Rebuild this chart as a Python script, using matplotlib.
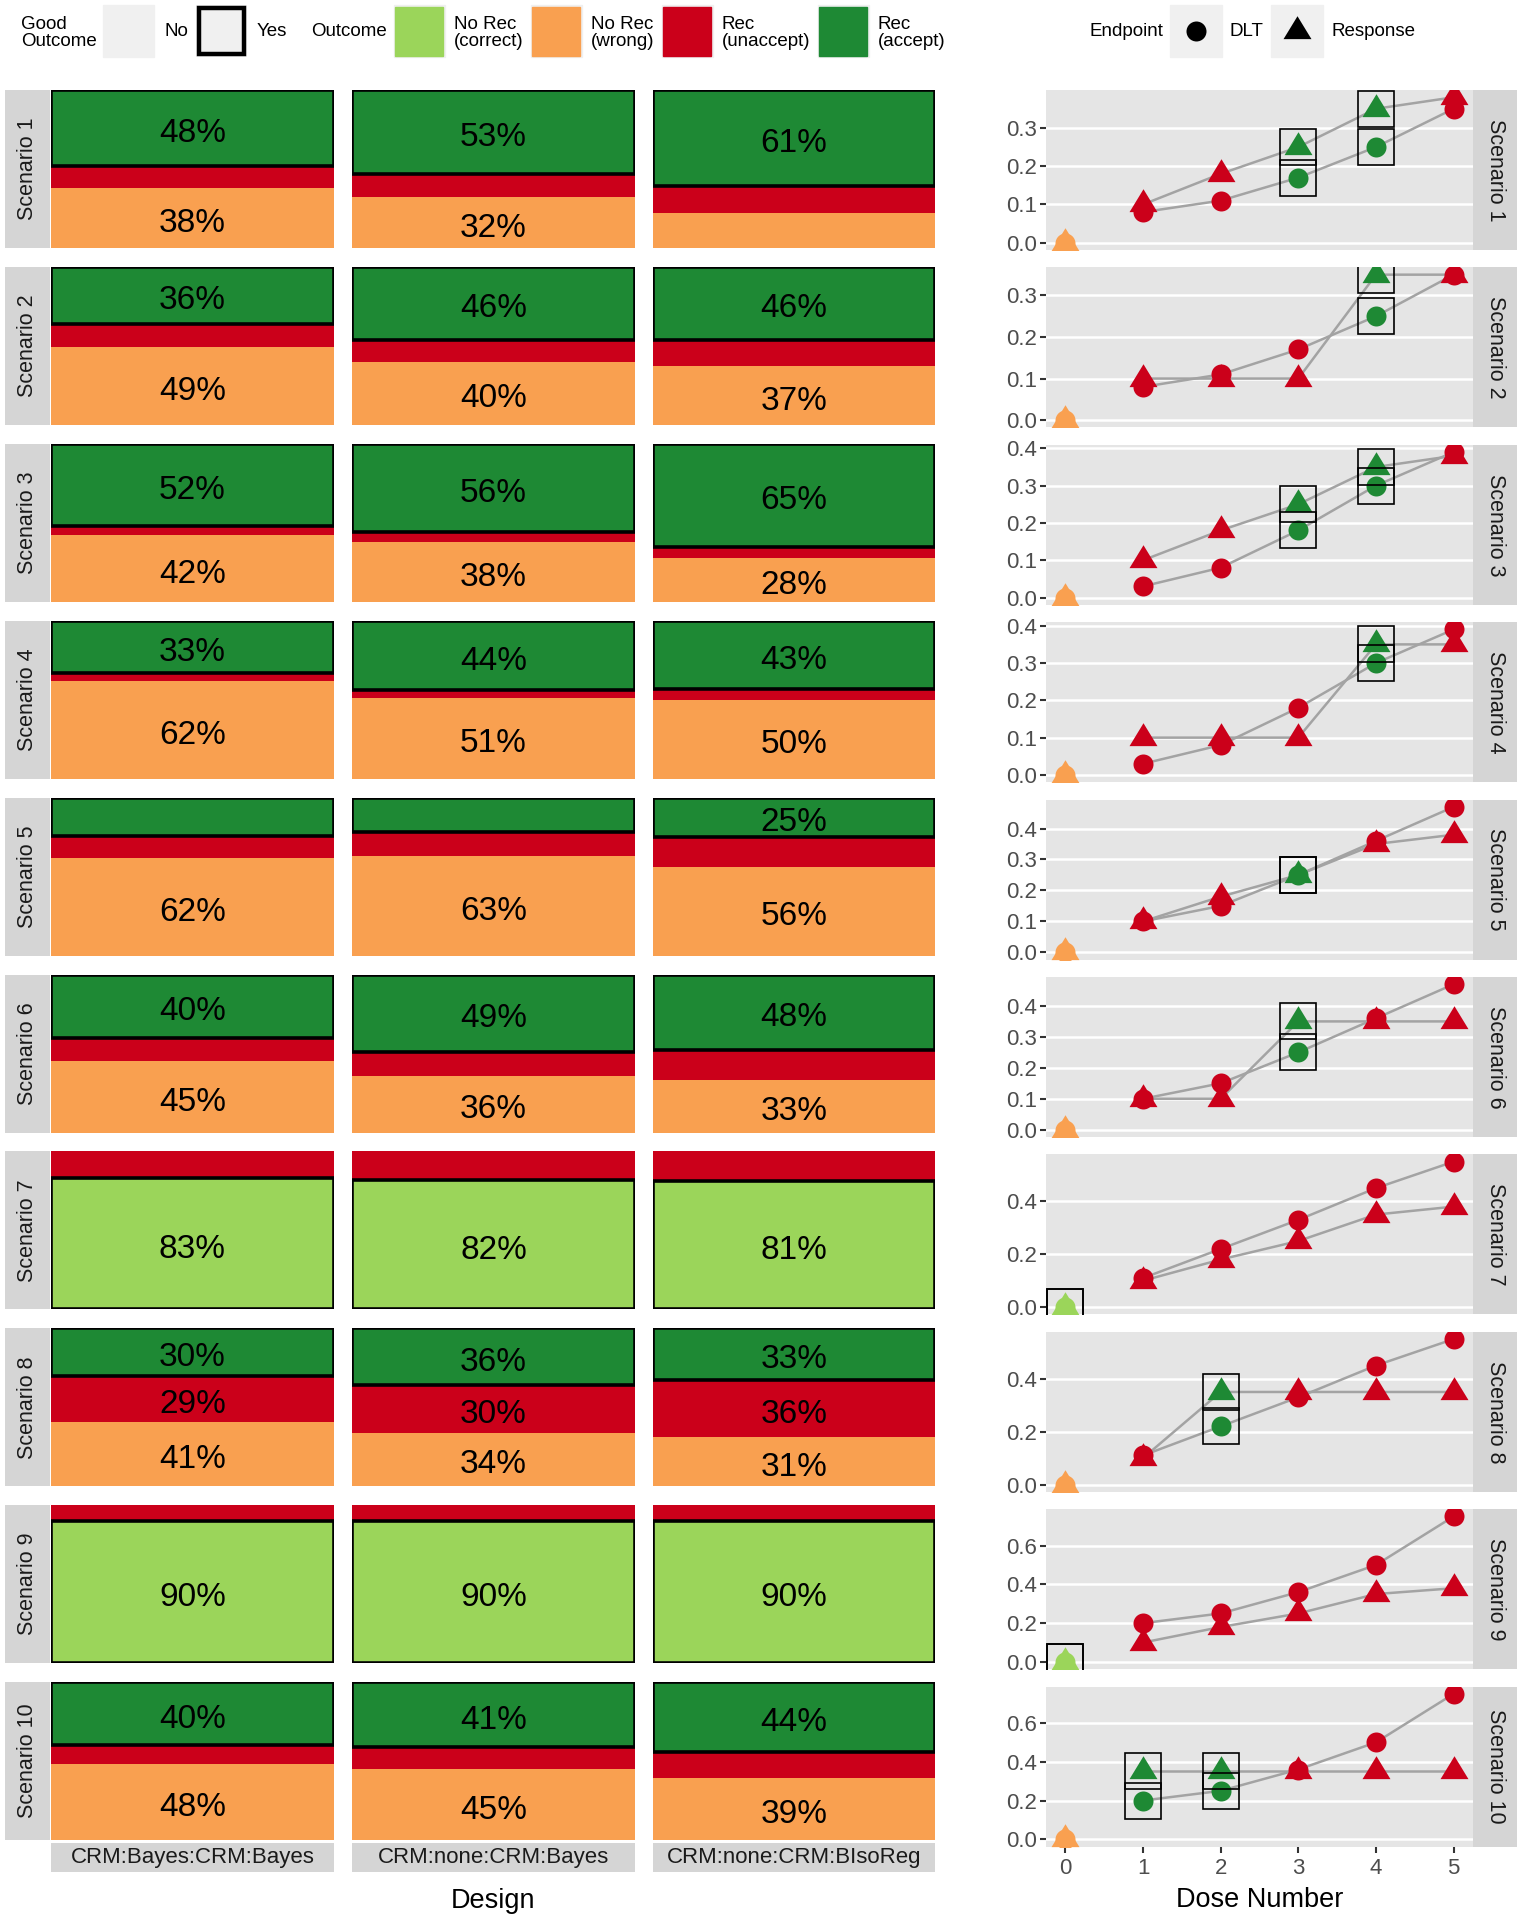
import matplotlib
matplotlib.use("Agg")
import matplotlib.pyplot as plt
from matplotlib.patches import Rectangle
from matplotlib.ticker import MultipleLocator, FormatStrFormatter

plt.rcParams['font.family'] = ['Liberation Sans', 'DejaVu Sans']

designs = ["CRM:Bayes:CRM:Bayes", "CRM:none:CRM:Bayes", "CRM:none:CRM:BIsoReg"]
scenarios = ["Scenario %d" % i for i in range(1, 11)]

# outcome shares, one list per design, one value per scenario
norec_correct = [
    [0, 0, 0, 0, 0, 0, 0.83, 0, 0.90, 0],
    [0, 0, 0, 0, 0, 0, 0.82, 0, 0.90, 0],
    [0, 0, 0, 0, 0, 0, 0.81, 0, 0.90, 0],
]
norec_wrong = [
    [0.38, 0.49, 0.42, 0.62, 0.62, 0.45, 0, 0.41, 0, 0.48],
    [0.32, 0.40, 0.38, 0.51, 0.63, 0.36, 0, 0.34, 0, 0.45],
    [0.22, 0.37, 0.28, 0.50, 0.56, 0.33, 0, 0.31, 0, 0.39],
]
rec_unaccept = [
    [0.14, 0.15, 0.06, 0.05, 0.14, 0.15, 0.17, 0.29, 0.10, 0.12],
    [0.15, 0.14, 0.06, 0.05, 0.15, 0.15, 0.18, 0.30, 0.10, 0.14],
    [0.17, 0.17, 0.07, 0.07, 0.19, 0.19, 0.19, 0.36, 0.10, 0.17],
]
rec_accept = [
    [0.48, 0.36, 0.52, 0.33, 0.24, 0.40, 0, 0.30, 0, 0.40],
    [0.53, 0.46, 0.56, 0.44, 0.22, 0.49, 0, 0.36, 0, 0.41],
    [0.61, 0.46, 0.65, 0.43, 0.25, 0.48, 0, 0.33, 0, 0.44],
]

doses = [0, 1, 2, 3, 4, 5]
dlt = [
    [0, 0.08, 0.11, 0.17, 0.25, 0.35],
    [0, 0.08, 0.11, 0.17, 0.25, 0.35],
    [0, 0.03, 0.08, 0.18, 0.30, 0.39],
    [0, 0.03, 0.08, 0.18, 0.30, 0.39],
    [0, 0.10, 0.15, 0.25, 0.36, 0.47],
    [0, 0.10, 0.15, 0.25, 0.36, 0.47],
    [0, 0.11, 0.22, 0.33, 0.45, 0.55],
    [0, 0.11, 0.22, 0.33, 0.45, 0.55],
    [0, 0.20, 0.25, 0.36, 0.50, 0.75],
    [0, 0.20, 0.25, 0.36, 0.50, 0.75],
]
response = [
    [0, 0.10, 0.18, 0.25, 0.35, 0.38],
    [0, 0.10, 0.10, 0.10, 0.35, 0.35],
    [0, 0.10, 0.18, 0.25, 0.35, 0.38],
    [0, 0.10, 0.10, 0.10, 0.35, 0.35],
    [0, 0.10, 0.18, 0.25, 0.35, 0.38],
    [0, 0.10, 0.10, 0.35, 0.35, 0.35],
    [0, 0.10, 0.18, 0.25, 0.35, 0.38],
    [0, 0.10, 0.35, 0.35, 0.35, 0.35],
    [0, 0.10, 0.18, 0.25, 0.35, 0.38],
    [0, 0.35, 0.35, 0.35, 0.35, 0.35],
]
accept_doses = [[3, 4], [4], [3, 4], [4], [3], [3], [], [2], [], [1, 2]]
y_steps = [0.1, 0.1, 0.1, 0.1, 0.1, 0.1, 0.2, 0.2, 0.2, 0.2]

outcome_labels = ["No Rec\n(correct)", "No Rec\n(wrong)", "Rec\n(unaccept)", "Rec\n(accept)"]
outcome_cols = ["#9BD55A", "#F9A050", "#CB001A", "#1E8934"]

strip_col = "#D5D5D5"
panel_col = "#E5E5E5"
key_col = "#F0F0F0"

W, H = 1523, 1920
fig = plt.figure(figsize=(W / 100, H / 100), dpi=100)


def px_axes(x0, y0, x1, y1):
    return fig.add_axes([x0 / W, 1 - y1 / H, (x1 - x0) / W, (y1 - y0) / H])


def strip(x0, y0, x1, y1, label, rot, size=15.5):
    s = px_axes(x0, y0, x1, y1)
    s.set_facecolor(strip_col)
    s.set_xticks([])
    s.set_yticks([])
    for sp in s.spines.values():
        sp.set_visible(False)
    s.text(0.5, 0.5, label, rotation=rot, ha='center', va='center',
           fontsize=size, color='#1A1A1A', transform=s.transAxes)


# triangle centred on its centroid, like ggplot's shape 17
tri = [(0, 1), (-0.915, -0.5), (0.915, -0.5), (0, 1)]

# overlay for legend and titles
ov = fig.add_axes([0, 0, 1, 1])
ov.set_xlim(0, W)
ov.set_ylim(H, 0)
ov.axis('off')

ov.text(21, 33, "Good\nOutcome", ha='left', va='center', fontsize=13.5, linespacing=1.05)
ov.add_patch(Rectangle((103, 5), 51, 52, color=key_col))
ov.text(165, 32, "No", ha='left', va='center', fontsize=13.5)
ov.add_patch(Rectangle((196, 5), 51, 52, facecolor=key_col, edgecolor='none'))
ov.add_patch(Rectangle((199, 8), 45, 46, facecolor=key_col, edgecolor='black', lw=3.2))
ov.text(257, 32, "Yes", ha='left', va='center', fontsize=13.5)
ov.text(311, 32, "Outcome", ha='left', va='center', fontsize=13.5)
key_x = [394, 531, 662, 818]
for k in range(4):
    ov.add_patch(Rectangle((key_x[k], 5), 51, 52, color=key_col))
    ov.add_patch(Rectangle((key_x[k] + 1.5, 6.5), 48, 49, color=outcome_cols[k]))
    ov.text(key_x[k] + 60, 33, outcome_labels[k], ha='left', va='center',
            fontsize=13.5, linespacing=1.05)

ov.text(1090, 32, "Endpoint", ha='left', va='center', fontsize=13.5)
ov.add_patch(Rectangle((1170, 5), 52, 52, color=key_col))
ov.plot(1196, 31, 'o', ms=14.4, color='black', mec='none')
ov.text(1230, 32, "DLT", ha='left', va='center', fontsize=13.5)
ov.add_patch(Rectangle((1271, 5), 52, 52, color=key_col))
ov.plot(1297, 31, marker=tri, ms=22, color='black', mec='none', ls='none')
ov.text(1332, 32, "Response", ha='left', va='center', fontsize=13.5)

ov.text(493, 1901, "Design", ha='center', va='center', fontsize=19.5)
ov.text(1260, 1900, "Dose Number", ha='center', va='center', fontsize=19.5)

# left: stacked outcome bars
left_x = [(51, 334), (352, 635), (653, 935)]
for i in range(10):
    top = 90 + i * 176.9
    bot = top + 158
    strip(5, top, 50, bot, scenarios[i], 90)
    for j in range(3):
        ax = px_axes(left_x[j][0], top, left_x[j][1], bot)
        vals = [norec_correct[j][i], norec_wrong[j][i], rec_unaccept[j][i], rec_accept[j][i]]
        b = 0
        for k in range(4):
            v = vals[k]
            if v <= 0:
                continue
            ax.bar(0, v, bottom=b, width=1, color=outcome_cols[k], zorder=1)
            if k in (0, 3):
                ax.bar(0, v, bottom=b, width=1, fill=False, edgecolor='black',
                       lw=2.6, zorder=3)
            if v >= 0.25:
                ax.annotate("%d%%" % round(v * 100), (0, b + v / 2), xytext=(0, -4),
                            textcoords='offset points', ha='center', va='center',
                            fontsize=24, zorder=4)
            b += v
        ax.set_xlim(-0.5, 0.5)
        ax.set_ylim(0, 1)
        ax.axis('off')
        if i == 9:
            strip(left_x[j][0], 1843, left_x[j][1], 1872, designs[j], 0, 16)

# right: dose curves
for i in range(10):
    top = 90 + i * 177.4
    bot = top + 160
    ax = px_axes(1046, top, 1473, bot)
    ax.set_facecolor(panel_col)
    ymax = max(max(dlt[i]), max(response[i]))
    ax.set_xlim(-0.25, 5.25)
    ax.set_ylim(-0.05 * ymax, 1.05 * ymax)
    ax.yaxis.set_major_locator(MultipleLocator(y_steps[i]))
    ax.yaxis.set_major_formatter(FormatStrFormatter('%.1f'))
    ax.grid(axis='y', color='white', lw=1.8)
    ax.set_axisbelow(True)
    for sp in ax.spines.values():
        sp.set_visible(False)
    ax.tick_params(axis='y', labelsize=16, labelcolor='#4D4D4D', color='#333333',
                   length=4.5, width=1.5, pad=2)
    if i == 9:
        ax.set_xticks(doses)
        ax.tick_params(axis='x', labelsize=16, labelcolor='#4D4D4D', color='#333333',
                       length=4.5, width=1.5, pad=4)
    else:
        ax.set_xticks([])

    ax.plot(doses[1:], dlt[i][1:], color='#A3A3A3', lw=1.8, zorder=2)
    ax.plot(doses[1:], response[i][1:], color='#A3A3A3', lw=1.8, zorder=2)

    for d in doses:
        if d == 0:
            col = outcome_cols[0] if not accept_doses[i] else outcome_cols[1]
            boxed = not accept_doses[i]
        else:
            boxed = d in accept_doses[i]
            col = outcome_cols[3] if boxed else outcome_cols[2]
        ax.plot(d, dlt[i][d], 'o', ms=14.4, color=col, mec='none', zorder=3)
        ax.plot(d, response[i][d], marker=tri, ms=22, color=col, mec='none',
                ls='none', zorder=3)
        if boxed:
            ax.plot(d, dlt[i][d], 's', ms=26.5, mfc='none', mec='black', mew=1.2, zorder=5)
            ax.plot(d, response[i][d], 's', ms=26.5, mfc='none', mec='black', mew=1.2,
                    zorder=5)

    strip(1473, top, 1517, bot, scenarios[i], -90)

fig.savefig("out.png", dpi=100)
